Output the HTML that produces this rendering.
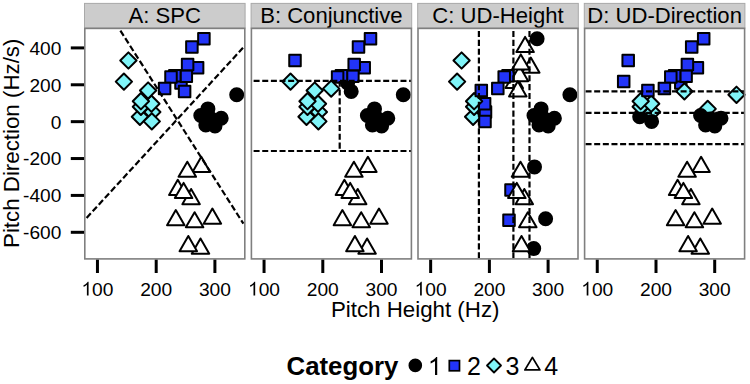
<!DOCTYPE html><html><head><meta charset="utf-8"><style>html,body{margin:0;padding:0;background:#fff;width:750px;height:384px;overflow:hidden}svg{display:block}text{font-family:"Liberation Sans",sans-serif;fill:#000}</style></head><body>
<svg width="750" height="384" viewBox="0 0 750 384">
<rect x="84.50" y="3.40" width="160.60" height="24.70" fill="#cccccc" stroke="#a9a9a9" stroke-width="1"/>
<text x="164.80" y="23.0" font-size="22.1" text-anchor="middle">A: SPC</text>
<g stroke-linejoin="round"><rect x="175.24" y="77.24" width="11.52" height="11.52" fill="#2234f8" stroke="#000" stroke-width="2.0"/><rect x="198.14" y="33.04" width="11.52" height="11.52" fill="#2234f8" stroke="#000" stroke-width="2.0"/><rect x="186.14" y="41.24" width="11.52" height="11.52" fill="#2234f8" stroke="#000" stroke-width="2.0"/><rect x="191.84" y="61.94" width="11.52" height="11.52" fill="#2234f8" stroke="#000" stroke-width="2.0"/><rect x="180.54" y="70.44" width="11.52" height="11.52" fill="#2234f8" stroke="#000" stroke-width="2.0"/><rect x="181.84" y="58.74" width="11.52" height="11.52" fill="#2234f8" stroke="#000" stroke-width="2.0"/><rect x="169.04" y="70.04" width="11.52" height="11.52" fill="#2234f8" stroke="#000" stroke-width="2.0"/><rect x="165.24" y="71.24" width="11.52" height="11.52" fill="#2234f8" stroke="#000" stroke-width="2.0"/><rect x="158.84" y="82.84" width="11.52" height="11.52" fill="#2234f8" stroke="#000" stroke-width="2.0"/><rect x="178.84" y="85.64" width="11.52" height="11.52" fill="#2234f8" stroke="#000" stroke-width="2.0"/><polygon points="139.90,108.65 148.05,116.80 139.90,124.95 131.75,116.80" fill="#80f4f8" stroke="#000" stroke-width="2.0"/><polygon points="152.30,103.85 160.45,112.00 152.30,120.15 144.15,112.00" fill="#80f4f8" stroke="#000" stroke-width="2.0"/><polygon points="140.90,98.65 149.05,106.80 140.90,114.95 132.75,106.80" fill="#80f4f8" stroke="#000" stroke-width="2.0"/><polygon points="151.40,95.55 159.55,103.70 151.40,111.85 143.25,103.70" fill="#80f4f8" stroke="#000" stroke-width="2.0"/><polygon points="140.90,93.05 149.05,101.20 140.90,109.35 132.75,101.20" fill="#80f4f8" stroke="#000" stroke-width="2.0"/><polygon points="151.80,113.25 159.95,121.40 151.80,129.55 143.65,121.40" fill="#80f4f8" stroke="#000" stroke-width="2.0"/><polygon points="148.10,82.35 156.25,90.50 148.10,98.65 139.95,90.50" fill="#80f4f8" stroke="#000" stroke-width="2.0"/><polygon points="128.40,52.35 136.55,60.50 128.40,68.65 120.25,60.50" fill="#80f4f8" stroke="#000" stroke-width="2.0"/><polygon points="123.90,73.45 132.05,81.60 123.90,89.75 115.75,81.60" fill="#80f4f8" stroke="#000" stroke-width="2.0"/><circle cx="207.90" cy="108.90" r="6.50" fill="#000" stroke="#000" stroke-width="2.0"/><circle cx="236.70" cy="94.80" r="6.50" fill="#000" stroke="#000" stroke-width="2.0"/><circle cx="200.80" cy="115.50" r="6.50" fill="#000" stroke="#000" stroke-width="2.0"/><circle cx="221.20" cy="118.30" r="6.50" fill="#000" stroke="#000" stroke-width="2.0"/><circle cx="211.50" cy="119.00" r="6.50" fill="#000" stroke="#000" stroke-width="2.0"/><circle cx="208.00" cy="120.00" r="6.50" fill="#000" stroke="#000" stroke-width="2.0"/><circle cx="205.80" cy="125.00" r="6.50" fill="#000" stroke="#000" stroke-width="2.0"/><circle cx="215.00" cy="126.00" r="6.50" fill="#000" stroke="#000" stroke-width="2.0"/><polygon points="201.30,156.79 210.05,171.95 192.55,171.95" fill="#fff" stroke="#000" stroke-width="2.0"/><polygon points="187.30,161.69 196.05,176.85 178.55,176.85" fill="#fff" stroke="#000" stroke-width="2.0"/><polygon points="191.10,188.99 199.85,204.15 182.35,204.15" fill="#fff" stroke="#000" stroke-width="2.0"/><polygon points="177.80,179.79 186.55,194.95 169.05,194.95" fill="#fff" stroke="#000" stroke-width="2.0"/><polygon points="183.60,182.89 192.35,198.05 174.85,198.05" fill="#fff" stroke="#000" stroke-width="2.0"/><polygon points="175.80,210.09 184.55,225.25 167.05,225.25" fill="#fff" stroke="#000" stroke-width="2.0"/><polygon points="194.60,212.19 203.35,227.35 185.85,227.35" fill="#fff" stroke="#000" stroke-width="2.0"/><polygon points="212.40,208.59 221.15,223.75 203.65,223.75" fill="#fff" stroke="#000" stroke-width="2.0"/><polygon points="200.50,238.49 209.25,253.65 191.75,253.65" fill="#fff" stroke="#000" stroke-width="2.0"/><polygon points="188.30,235.99 197.05,251.15 179.55,251.15" fill="#fff" stroke="#000" stroke-width="2.0"/></g>
<line x1="120.40" y1="30.60" x2="243.40" y2="223.70" stroke="#000" stroke-width="2.2" stroke-dasharray="6.2 2.8" stroke-dashoffset="0.00"/>
<line x1="86.60" y1="217.90" x2="243.00" y2="47.80" stroke="#000" stroke-width="2.2" stroke-dasharray="6.2 2.8" stroke-dashoffset="0.00"/>
<rect x="84.80" y="28.40" width="160.00" height="230.50" fill="none" stroke="#7f7f7f" stroke-width="1.6"/>
<line x1="97.45" y1="259.70" x2="97.45" y2="273" stroke="#000" stroke-width="3"/>
<path d="M763 0L583 0L583 1147Q518 1085 422 1029Q326 973 223 935L223 1109Q407 1196 520.5 1297Q634 1398 676 1466L763 1466Z" transform="translate(81.43,295.60) scale(0.00937,-0.00937)" fill="#000"/>
<text x="92.11" y="295.6" font-size="19.2">00</text>
<line x1="156.20" y1="259.70" x2="156.20" y2="273" stroke="#000" stroke-width="3"/>
<text x="140.18" y="295.6" font-size="19.2">200</text>
<line x1="214.90" y1="259.70" x2="214.90" y2="273" stroke="#000" stroke-width="3"/>
<text x="198.88" y="295.6" font-size="19.2">300</text>
<rect x="251.10" y="3.40" width="160.60" height="24.70" fill="#cccccc" stroke="#a9a9a9" stroke-width="1"/>
<text x="331.40" y="23.0" font-size="22.1" text-anchor="middle">B: Conjunctive</text>
<g stroke-linejoin="round"><circle cx="347.60" cy="83.00" r="6.50" fill="#000" stroke="#000" stroke-width="2.0"/><rect x="364.74" y="33.04" width="11.52" height="11.52" fill="#2234f8" stroke="#000" stroke-width="2.0"/><rect x="352.74" y="41.24" width="11.52" height="11.52" fill="#2234f8" stroke="#000" stroke-width="2.0"/><rect x="358.44" y="61.94" width="11.52" height="11.52" fill="#2234f8" stroke="#000" stroke-width="2.0"/><rect x="347.14" y="70.44" width="11.52" height="11.52" fill="#2234f8" stroke="#000" stroke-width="2.0"/><rect x="348.44" y="58.74" width="11.52" height="11.52" fill="#2234f8" stroke="#000" stroke-width="2.0"/><rect x="335.64" y="70.04" width="11.52" height="11.52" fill="#2234f8" stroke="#000" stroke-width="2.0"/><rect x="331.84" y="71.24" width="11.52" height="11.52" fill="#2234f8" stroke="#000" stroke-width="2.0"/><polygon points="331.20,80.45 339.35,88.60 331.20,96.75 323.05,88.60" fill="#80f4f8" stroke="#000" stroke-width="2.0"/><circle cx="351.20" cy="91.40" r="6.50" fill="#000" stroke="#000" stroke-width="2.0"/><polygon points="306.50,108.65 314.65,116.80 306.50,124.95 298.35,116.80" fill="#80f4f8" stroke="#000" stroke-width="2.0"/><polygon points="318.90,103.85 327.05,112.00 318.90,120.15 310.75,112.00" fill="#80f4f8" stroke="#000" stroke-width="2.0"/><polygon points="307.50,98.65 315.65,106.80 307.50,114.95 299.35,106.80" fill="#80f4f8" stroke="#000" stroke-width="2.0"/><polygon points="318.00,95.55 326.15,103.70 318.00,111.85 309.85,103.70" fill="#80f4f8" stroke="#000" stroke-width="2.0"/><polygon points="307.50,93.05 315.65,101.20 307.50,109.35 299.35,101.20" fill="#80f4f8" stroke="#000" stroke-width="2.0"/><polygon points="318.40,113.25 326.55,121.40 318.40,129.55 310.25,121.40" fill="#80f4f8" stroke="#000" stroke-width="2.0"/><polygon points="314.70,82.35 322.85,90.50 314.70,98.65 306.55,90.50" fill="#80f4f8" stroke="#000" stroke-width="2.0"/><rect x="289.24" y="54.74" width="11.52" height="11.52" fill="#2234f8" stroke="#000" stroke-width="2.0"/><polygon points="290.50,73.45 298.65,81.60 290.50,89.75 282.35,81.60" fill="#80f4f8" stroke="#000" stroke-width="2.0"/><circle cx="374.50" cy="108.90" r="6.50" fill="#000" stroke="#000" stroke-width="2.0"/><circle cx="403.30" cy="94.80" r="6.50" fill="#000" stroke="#000" stroke-width="2.0"/><circle cx="367.40" cy="115.50" r="6.50" fill="#000" stroke="#000" stroke-width="2.0"/><circle cx="387.80" cy="118.30" r="6.50" fill="#000" stroke="#000" stroke-width="2.0"/><circle cx="378.10" cy="119.00" r="6.50" fill="#000" stroke="#000" stroke-width="2.0"/><circle cx="374.60" cy="120.00" r="6.50" fill="#000" stroke="#000" stroke-width="2.0"/><circle cx="372.40" cy="125.00" r="6.50" fill="#000" stroke="#000" stroke-width="2.0"/><circle cx="381.60" cy="126.00" r="6.50" fill="#000" stroke="#000" stroke-width="2.0"/><polygon points="367.90,156.79 376.65,171.95 359.15,171.95" fill="#fff" stroke="#000" stroke-width="2.0"/><polygon points="353.90,161.69 362.65,176.85 345.15,176.85" fill="#fff" stroke="#000" stroke-width="2.0"/><polygon points="357.70,188.99 366.45,204.15 348.95,204.15" fill="#fff" stroke="#000" stroke-width="2.0"/><polygon points="344.40,179.79 353.15,194.95 335.65,194.95" fill="#fff" stroke="#000" stroke-width="2.0"/><polygon points="350.20,182.89 358.95,198.05 341.45,198.05" fill="#fff" stroke="#000" stroke-width="2.0"/><polygon points="342.40,210.09 351.15,225.25 333.65,225.25" fill="#fff" stroke="#000" stroke-width="2.0"/><polygon points="361.20,212.19 369.95,227.35 352.45,227.35" fill="#fff" stroke="#000" stroke-width="2.0"/><polygon points="379.00,208.59 387.75,223.75 370.25,223.75" fill="#fff" stroke="#000" stroke-width="2.0"/><polygon points="367.10,238.49 375.85,253.65 358.35,253.65" fill="#fff" stroke="#000" stroke-width="2.0"/><polygon points="354.90,235.99 363.65,251.15 346.15,251.15" fill="#fff" stroke="#000" stroke-width="2.0"/></g>
<line x1="252.10" y1="80.90" x2="411.10" y2="80.90" stroke="#000" stroke-width="2.2" stroke-dasharray="6.0 2.64" stroke-dashoffset="7.14"/>
<line x1="252.10" y1="151.00" x2="411.10" y2="151.00" stroke="#000" stroke-width="2.2" stroke-dasharray="6.0 2.64" stroke-dashoffset="7.14"/>
<line x1="339.70" y1="80.90" x2="339.70" y2="151.00" stroke="#000" stroke-width="2.2" stroke-dasharray="6.1 2.75" stroke-dashoffset="0.25"/>
<rect x="251.40" y="28.40" width="160.00" height="230.50" fill="none" stroke="#7f7f7f" stroke-width="1.6"/>
<line x1="264.05" y1="259.70" x2="264.05" y2="273" stroke="#000" stroke-width="3"/>
<path d="M763 0L583 0L583 1147Q518 1085 422 1029Q326 973 223 935L223 1109Q407 1196 520.5 1297Q634 1398 676 1466L763 1466Z" transform="translate(248.03,295.60) scale(0.00937,-0.00937)" fill="#000"/>
<text x="258.71" y="295.6" font-size="19.2">00</text>
<line x1="322.80" y1="259.70" x2="322.80" y2="273" stroke="#000" stroke-width="3"/>
<text x="306.78" y="295.6" font-size="19.2">200</text>
<line x1="381.50" y1="259.70" x2="381.50" y2="273" stroke="#000" stroke-width="3"/>
<text x="365.48" y="295.6" font-size="19.2">300</text>
<rect x="417.70" y="3.40" width="160.60" height="24.70" fill="#cccccc" stroke="#a9a9a9" stroke-width="1"/>
<text x="498.00" y="23.0" font-size="22.1" text-anchor="middle">C: UD-Height</text>
<g stroke-linejoin="round"><polygon points="514.20,72.89 522.95,88.05 505.45,88.05" fill="#fff" stroke="#000" stroke-width="2.0"/><circle cx="537.10" cy="38.80" r="6.50" fill="#000" stroke="#000" stroke-width="2.0"/><polygon points="525.10,36.89 533.85,52.05 516.35,52.05" fill="#fff" stroke="#000" stroke-width="2.0"/><polygon points="530.80,57.59 539.55,72.75 522.05,72.75" fill="#fff" stroke="#000" stroke-width="2.0"/><polygon points="519.50,66.09 528.25,81.25 510.75,81.25" fill="#fff" stroke="#000" stroke-width="2.0"/><polygon points="520.80,54.39 529.55,69.55 512.05,69.55" fill="#fff" stroke="#000" stroke-width="2.0"/><rect x="502.24" y="70.04" width="11.52" height="11.52" fill="#2234f8" stroke="#000" stroke-width="2.0"/><rect x="498.44" y="71.24" width="11.52" height="11.52" fill="#2234f8" stroke="#000" stroke-width="2.0"/><rect x="492.04" y="82.84" width="11.52" height="11.52" fill="#2234f8" stroke="#000" stroke-width="2.0"/><polygon points="517.80,81.29 526.55,96.45 509.05,96.45" fill="#fff" stroke="#000" stroke-width="2.0"/><polygon points="473.10,108.65 481.25,116.80 473.10,124.95 464.95,116.80" fill="#80f4f8" stroke="#000" stroke-width="2.0"/><rect x="479.74" y="106.24" width="11.52" height="11.52" fill="#2234f8" stroke="#000" stroke-width="2.0"/><polygon points="474.10,98.65 482.25,106.80 474.10,114.95 465.95,106.80" fill="#80f4f8" stroke="#000" stroke-width="2.0"/><rect x="478.84" y="97.94" width="11.52" height="11.52" fill="#2234f8" stroke="#000" stroke-width="2.0"/><polygon points="474.10,93.05 482.25,101.20 474.10,109.35 465.95,101.20" fill="#80f4f8" stroke="#000" stroke-width="2.0"/><rect x="479.24" y="115.64" width="11.52" height="11.52" fill="#2234f8" stroke="#000" stroke-width="2.0"/><rect x="475.54" y="84.74" width="11.52" height="11.52" fill="#2234f8" stroke="#000" stroke-width="2.0"/><polygon points="461.60,52.35 469.75,60.50 461.60,68.65 453.45,60.50" fill="#80f4f8" stroke="#000" stroke-width="2.0"/><polygon points="457.10,73.45 465.25,81.60 457.10,89.75 448.95,81.60" fill="#80f4f8" stroke="#000" stroke-width="2.0"/><circle cx="541.10" cy="108.90" r="6.50" fill="#000" stroke="#000" stroke-width="2.0"/><circle cx="569.90" cy="94.80" r="6.50" fill="#000" stroke="#000" stroke-width="2.0"/><circle cx="534.00" cy="115.50" r="6.50" fill="#000" stroke="#000" stroke-width="2.0"/><circle cx="554.40" cy="118.30" r="6.50" fill="#000" stroke="#000" stroke-width="2.0"/><circle cx="544.70" cy="119.00" r="6.50" fill="#000" stroke="#000" stroke-width="2.0"/><circle cx="541.20" cy="120.00" r="6.50" fill="#000" stroke="#000" stroke-width="2.0"/><circle cx="539.00" cy="125.00" r="6.50" fill="#000" stroke="#000" stroke-width="2.0"/><circle cx="548.20" cy="126.00" r="6.50" fill="#000" stroke="#000" stroke-width="2.0"/><circle cx="534.50" cy="166.90" r="6.50" fill="#000" stroke="#000" stroke-width="2.0"/><polygon points="520.50,161.69 529.25,176.85 511.75,176.85" fill="#fff" stroke="#000" stroke-width="2.0"/><polygon points="524.30,188.99 533.05,204.15 515.55,204.15" fill="#fff" stroke="#000" stroke-width="2.0"/><rect x="505.24" y="184.14" width="11.52" height="11.52" fill="#2234f8" stroke="#000" stroke-width="2.0"/><polygon points="516.80,182.89 525.55,198.05 508.05,198.05" fill="#fff" stroke="#000" stroke-width="2.0"/><rect x="503.24" y="214.44" width="11.52" height="11.52" fill="#2234f8" stroke="#000" stroke-width="2.0"/><polygon points="527.80,212.19 536.55,227.35 519.05,227.35" fill="#fff" stroke="#000" stroke-width="2.0"/><circle cx="545.60" cy="218.70" r="6.50" fill="#000" stroke="#000" stroke-width="2.0"/><circle cx="533.70" cy="248.60" r="6.50" fill="#000" stroke="#000" stroke-width="2.0"/><polygon points="521.50,235.99 530.25,251.15 512.75,251.15" fill="#fff" stroke="#000" stroke-width="2.0"/></g>
<line x1="478.90" y1="29.00" x2="478.90" y2="258.50" stroke="#000" stroke-width="2.2" stroke-dasharray="6.1 2.75" stroke-dashoffset="6.90"/>
<line x1="513.40" y1="29.00" x2="513.40" y2="258.50" stroke="#000" stroke-width="2.2" stroke-dasharray="6.1 2.75" stroke-dashoffset="6.90"/>
<line x1="529.50" y1="29.00" x2="529.50" y2="258.50" stroke="#000" stroke-width="2.2" stroke-dasharray="6.1 2.75" stroke-dashoffset="6.90"/>
<rect x="418.00" y="28.40" width="160.00" height="230.50" fill="none" stroke="#7f7f7f" stroke-width="1.6"/>
<line x1="430.65" y1="259.70" x2="430.65" y2="273" stroke="#000" stroke-width="3"/>
<path d="M763 0L583 0L583 1147Q518 1085 422 1029Q326 973 223 935L223 1109Q407 1196 520.5 1297Q634 1398 676 1466L763 1466Z" transform="translate(414.63,295.60) scale(0.00937,-0.00937)" fill="#000"/>
<text x="425.31" y="295.6" font-size="19.2">00</text>
<line x1="489.40" y1="259.70" x2="489.40" y2="273" stroke="#000" stroke-width="3"/>
<text x="473.38" y="295.6" font-size="19.2">200</text>
<line x1="548.10" y1="259.70" x2="548.10" y2="273" stroke="#000" stroke-width="3"/>
<text x="532.08" y="295.6" font-size="19.2">300</text>
<rect x="584.30" y="3.40" width="160.60" height="24.70" fill="#cccccc" stroke="#a9a9a9" stroke-width="1"/>
<text x="664.60" y="23.0" font-size="22.1" text-anchor="middle">D: UD-Direction</text>
<g stroke-linejoin="round"><rect x="675.04" y="77.24" width="11.52" height="11.52" fill="#2234f8" stroke="#000" stroke-width="2.0"/><rect x="697.94" y="33.04" width="11.52" height="11.52" fill="#2234f8" stroke="#000" stroke-width="2.0"/><rect x="685.94" y="41.24" width="11.52" height="11.52" fill="#2234f8" stroke="#000" stroke-width="2.0"/><rect x="691.64" y="61.94" width="11.52" height="11.52" fill="#2234f8" stroke="#000" stroke-width="2.0"/><rect x="680.34" y="70.44" width="11.52" height="11.52" fill="#2234f8" stroke="#000" stroke-width="2.0"/><rect x="681.64" y="58.74" width="11.52" height="11.52" fill="#2234f8" stroke="#000" stroke-width="2.0"/><rect x="668.84" y="70.04" width="11.52" height="11.52" fill="#2234f8" stroke="#000" stroke-width="2.0"/><rect x="665.04" y="71.24" width="11.52" height="11.52" fill="#2234f8" stroke="#000" stroke-width="2.0"/><rect x="658.64" y="82.84" width="11.52" height="11.52" fill="#2234f8" stroke="#000" stroke-width="2.0"/><polygon points="684.40,83.25 692.55,91.40 684.40,99.55 676.25,91.40" fill="#80f4f8" stroke="#000" stroke-width="2.0"/><circle cx="639.70" cy="116.80" r="6.50" fill="#000" stroke="#000" stroke-width="2.0"/><polygon points="652.10,103.85 660.25,112.00 652.10,120.15 643.95,112.00" fill="#80f4f8" stroke="#000" stroke-width="2.0"/><polygon points="640.70,98.65 648.85,106.80 640.70,114.95 632.55,106.80" fill="#80f4f8" stroke="#000" stroke-width="2.0"/><polygon points="651.20,95.55 659.35,103.70 651.20,111.85 643.05,103.70" fill="#80f4f8" stroke="#000" stroke-width="2.0"/><polygon points="640.70,93.05 648.85,101.20 640.70,109.35 632.55,101.20" fill="#80f4f8" stroke="#000" stroke-width="2.0"/><circle cx="651.60" cy="121.40" r="6.50" fill="#000" stroke="#000" stroke-width="2.0"/><rect x="642.14" y="84.74" width="11.52" height="11.52" fill="#2234f8" stroke="#000" stroke-width="2.0"/><rect x="622.44" y="54.74" width="11.52" height="11.52" fill="#2234f8" stroke="#000" stroke-width="2.0"/><rect x="617.94" y="75.84" width="11.52" height="11.52" fill="#2234f8" stroke="#000" stroke-width="2.0"/><polygon points="707.70,100.75 715.85,108.90 707.70,117.05 699.55,108.90" fill="#80f4f8" stroke="#000" stroke-width="2.0"/><polygon points="736.50,86.65 744.65,94.80 736.50,102.95 728.35,94.80" fill="#80f4f8" stroke="#000" stroke-width="2.0"/><circle cx="700.60" cy="115.50" r="6.50" fill="#000" stroke="#000" stroke-width="2.0"/><circle cx="721.00" cy="118.30" r="6.50" fill="#000" stroke="#000" stroke-width="2.0"/><circle cx="711.30" cy="119.00" r="6.50" fill="#000" stroke="#000" stroke-width="2.0"/><circle cx="707.80" cy="120.00" r="6.50" fill="#000" stroke="#000" stroke-width="2.0"/><circle cx="705.60" cy="125.00" r="6.50" fill="#000" stroke="#000" stroke-width="2.0"/><circle cx="714.80" cy="126.00" r="6.50" fill="#000" stroke="#000" stroke-width="2.0"/><polygon points="701.10,156.79 709.85,171.95 692.35,171.95" fill="#fff" stroke="#000" stroke-width="2.0"/><polygon points="687.10,161.69 695.85,176.85 678.35,176.85" fill="#fff" stroke="#000" stroke-width="2.0"/><polygon points="690.90,188.99 699.65,204.15 682.15,204.15" fill="#fff" stroke="#000" stroke-width="2.0"/><polygon points="677.60,179.79 686.35,194.95 668.85,194.95" fill="#fff" stroke="#000" stroke-width="2.0"/><polygon points="683.40,182.89 692.15,198.05 674.65,198.05" fill="#fff" stroke="#000" stroke-width="2.0"/><polygon points="675.60,210.09 684.35,225.25 666.85,225.25" fill="#fff" stroke="#000" stroke-width="2.0"/><polygon points="694.40,212.19 703.15,227.35 685.65,227.35" fill="#fff" stroke="#000" stroke-width="2.0"/><polygon points="712.20,208.59 720.95,223.75 703.45,223.75" fill="#fff" stroke="#000" stroke-width="2.0"/><polygon points="700.30,238.49 709.05,253.65 691.55,253.65" fill="#fff" stroke="#000" stroke-width="2.0"/><polygon points="688.10,235.99 696.85,251.15 679.35,251.15" fill="#fff" stroke="#000" stroke-width="2.0"/></g>
<line x1="585.30" y1="91.40" x2="744.30" y2="91.40" stroke="#000" stroke-width="2.2" stroke-dasharray="6.0 2.64" stroke-dashoffset="8.39"/>
<line x1="585.30" y1="112.90" x2="744.30" y2="112.90" stroke="#000" stroke-width="2.2" stroke-dasharray="6.0 2.64" stroke-dashoffset="8.39"/>
<line x1="585.30" y1="144.20" x2="744.30" y2="144.20" stroke="#000" stroke-width="2.2" stroke-dasharray="6.0 2.64" stroke-dashoffset="8.39"/>
<rect x="584.60" y="28.40" width="160.00" height="230.50" fill="none" stroke="#7f7f7f" stroke-width="1.6"/>
<line x1="597.25" y1="259.70" x2="597.25" y2="273" stroke="#000" stroke-width="3"/>
<path d="M763 0L583 0L583 1147Q518 1085 422 1029Q326 973 223 935L223 1109Q407 1196 520.5 1297Q634 1398 676 1466L763 1466Z" transform="translate(581.23,295.60) scale(0.00937,-0.00937)" fill="#000"/>
<text x="591.91" y="295.6" font-size="19.2">00</text>
<line x1="656.00" y1="259.70" x2="656.00" y2="273" stroke="#000" stroke-width="3"/>
<text x="639.98" y="295.6" font-size="19.2">200</text>
<line x1="714.70" y1="259.70" x2="714.70" y2="273" stroke="#000" stroke-width="3"/>
<text x="698.68" y="295.6" font-size="19.2">300</text>
<line x1="70.8" y1="47.90" x2="84.00" y2="47.90" stroke="#000" stroke-width="3"/>
<text x="61.3" y="54.80" font-size="19.1" text-anchor="end">400</text>
<line x1="70.8" y1="84.78" x2="84.00" y2="84.78" stroke="#000" stroke-width="3"/>
<text x="61.3" y="91.68" font-size="19.1" text-anchor="end">200</text>
<line x1="70.8" y1="121.66" x2="84.00" y2="121.66" stroke="#000" stroke-width="3"/>
<text x="61.3" y="128.56" font-size="19.1" text-anchor="end">0</text>
<line x1="70.8" y1="158.54" x2="84.00" y2="158.54" stroke="#000" stroke-width="3"/>
<text x="61.3" y="165.44" font-size="19.1" text-anchor="end">-200</text>
<line x1="70.8" y1="195.42" x2="84.00" y2="195.42" stroke="#000" stroke-width="3"/>
<text x="61.3" y="202.32" font-size="19.1" text-anchor="end">-400</text>
<line x1="70.8" y1="232.30" x2="84.00" y2="232.30" stroke="#000" stroke-width="3"/>
<text x="61.3" y="239.20" font-size="19.1" text-anchor="end">-600</text>
<text x="415.2" y="316.6" font-size="22.3" text-anchor="middle">Pitch Height (Hz)</text>
<text transform="translate(18.9,143.3) rotate(-90)" x="0" y="0" font-size="22.3" text-anchor="middle">Pitch Direction (Hz/s)</text>
<text x="286.5" y="374.5" font-size="25.8" font-weight="bold">Category</text>
<circle cx="415.3" cy="365.4" r="6.0" fill="#000" stroke="#000" stroke-width="1.6"/>
<path d="M763 0L583 0L583 1147Q518 1085 422 1029Q326 973 223 935L223 1109Q407 1196 520.5 1297Q634 1398 676 1466L763 1466Z" transform="translate(427.90,374.90) scale(0.01221,-0.01221)" fill="#000"/>
<rect x="449.3" y="360.6" width="10.2" height="10.2" fill="#2234f8" stroke="#000" stroke-width="1.7"/>
<text x="466.9" y="374.9" font-size="25">2</text>
<polygon points="494,358.5 501,365.5 494,372.5 487,365.5" fill="#80f4f8" stroke="#000" stroke-width="1.8" stroke-linejoin="round"/>
<text x="505.6" y="374.9" font-size="25">3</text>
<polygon points="532.4,357.4 539.9,369.9 524.9,369.9" fill="#fff" stroke="#000" stroke-width="1.8" stroke-linejoin="round"/>
<text x="544.3" y="374.9" font-size="25">4</text>
</svg></body></html>
